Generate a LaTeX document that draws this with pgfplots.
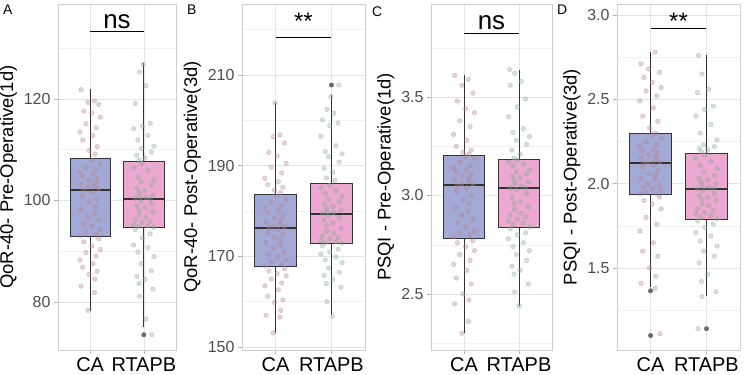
\documentclass[border=0pt]{standalone}
\usepackage{fontspec}
\setmainfont{Liberation Sans}
\usepackage{pgfplots}
\pgfplotsset{compat=1.18}
\usepackage{pgfplotstable}

\definecolor{caBox}{HTML}{A3A9D6}
\definecolor{rtBox}{HTML}{ECA8D0}
\definecolor{caPt}{HTML}{B5838E}
\definecolor{rtPt}{HTML}{86AB95}
\definecolor{boxLine}{HTML}{333333}
\definecolor{outGrey}{HTML}{555555}
\definecolor{gridMaj}{HTML}{E4E4E4}
\definecolor{gridMin}{HTML}{F1F1F1}
\definecolor{frameGrey}{HTML}{CFCFCF}
\definecolor{tickText}{HTML}{4D4D4D}

% ---- jittered points: j = horizontal jitter, y = value ----
\pgfplotstableread{
j y
-0.17 121.8
0.08 119.6
-0.04 119.3
0.16 118.9
-0.12 117.6
0.03 117.2
0.19 116.4
-0.08 115.1
0.11 114.3
-0.19 113.5
0.05 112.8
-0.14 111.9
0.13 110.6
-0.02 109.8
0.09 109.1
0.03 107.8
0.19 107.2
-0.08 106.5
0.11 106.1
-0.19 105.6
0.05 105.2
-0.14 104.8
0.13 104.3
-0.02 103.9
0.09 103.5
-0.17 103.1
0.08 102.8
-0.04 102.5
0.16 102.3
-0.12 102.0
0.05 101.6
-0.14 100.9
0.13 100.2
-0.02 99.5
0.09 98.8
-0.17 98.1
0.08 97.4
-0.04 96.7
0.16 96.1
-0.12 95.4
0.03 94.9
0.19 94.3
-0.08 93.8
0.11 93.4
-0.19 93.0
0.16 92.4
-0.12 91.8
0.03 91.0
0.19 90.3
-0.08 89.7
0.11 89.0
-0.19 88.2
0.05 87.5
-0.14 86.8
0.13 86.0
-0.02 85.4
0.09 84.5
-0.17 83.1
0.08 81.8
-0.04 78.3
}\ptAca
\pgfplotstableread{
j y
-0.01 126.8
-0.08 125.3
0.04 122.6
-0.16 119.1
0.12 115.2
-0.03 114.6
-0.19 114.1
0.08 112.8
-0.11 111.9
0.19 110.7
-0.05 110.2
0.14 109.5
-0.13 108.9
0.02 108.3
-0.09 107.9
-0.03 107.3
-0.19 106.4
0.08 105.9
-0.11 104.5
0.19 104.0
-0.05 103.6
0.14 103.1
-0.13 102.4
0.02 101.9
-0.09 101.5
0.17 101.0
-0.08 100.8
0.04 100.5
-0.16 100.4
0.12 100.3
-0.05 99.9
0.14 99.4
-0.13 98.9
0.02 98.5
-0.09 98.1
0.17 97.8
-0.08 97.2
0.04 96.6
-0.16 96.2
0.12 95.9
-0.03 95.6
-0.19 95.2
0.08 95.0
-0.11 94.8
0.19 94.7
-0.16 94.2
0.12 93.4
-0.03 92.6
-0.19 91.2
0.08 90.7
-0.11 89.8
0.19 88.9
-0.05 87.5
0.14 86.1
-0.13 85.0
0.02 84.4
-0.09 83.6
0.17 82.5
-0.08 81.1
0.04 76.6
0.15 73.5
}\ptArt
\pgfplotstableread{
j y
-0.01 203.8
0.08 196.8
-0.04 196.4
0.16 195.0
-0.12 192.9
0.03 192.1
0.19 190.5
-0.08 189.7
0.11 188.4
-0.19 187.2
0.05 186.5
-0.14 185.8
0.13 185.2
-0.02 184.6
0.09 184.0
0.03 183.3
0.19 182.6
-0.08 181.9
0.11 181.2
-0.19 180.7
0.05 180.1
-0.14 179.6
0.13 179.0
-0.02 178.4
0.09 177.9
-0.17 177.5
0.08 177.0
-0.04 176.7
0.16 176.5
-0.12 176.3
0.05 175.9
-0.14 175.2
0.13 174.8
-0.02 174.3
0.09 173.6
-0.17 173.0
0.08 172.5
-0.04 171.8
0.16 171.0
-0.12 170.4
0.03 169.8
0.19 169.2
-0.08 168.7
0.11 168.3
-0.19 167.9
0.16 167.3
-0.12 166.8
0.03 166.2
0.19 165.7
-0.08 165.0
0.11 164.1
-0.19 163.5
0.05 162.6
-0.14 161.2
0.13 160.4
-0.02 159.8
0.09 158.1
-0.17 157.0
0.08 156.6
-0.04 153.1
}\ptBca
\pgfplotstableread{
j y
0.13 207.8
-0.01 205.2
-0.08 202.4
0.04 201.6
-0.16 200.1
0.12 199.4
-0.03 198.8
-0.19 196.5
0.08 194.4
-0.11 193.1
0.19 192.6
-0.05 192.0
0.14 190.8
-0.13 189.4
0.02 188.5
-0.09 187.3
0.06 186.8
-0.03 185.7
-0.19 185.1
0.08 184.5
-0.11 183.9
0.19 183.2
-0.05 182.6
0.14 182.0
-0.13 181.5
0.02 181.0
-0.09 180.6
0.17 180.2
-0.08 179.9
0.04 179.7
-0.16 179.5
-0.05 179.1
0.14 178.6
-0.13 178.0
0.02 177.4
-0.09 176.8
0.17 176.1
-0.08 175.5
0.04 175.0
-0.16 174.6
0.12 174.2
-0.03 173.8
-0.19 173.5
0.08 173.2
-0.11 173.0
0.19 172.9
-0.16 172.3
0.12 171.6
-0.03 171.0
-0.19 170.5
0.08 169.9
-0.11 169.2
0.19 168.6
-0.05 167.4
0.14 166.5
-0.13 165.8
0.02 164.9
-0.09 164.0
0.17 163.2
-0.08 160.0
0.02 156.8
}\ptBrt
\pgfplotstableread{
j y
-0.17 3.61
0.08 3.59
-0.04 3.56
0.16 3.52
-0.12 3.48
0.03 3.44
0.19 3.42
-0.08 3.38
0.11 3.35
-0.19 3.31
0.05 3.28
-0.14 3.25
0.13 3.23
-0.02 3.22
0.09 3.21
0.03 3.20
0.19 3.19
-0.08 3.17
0.11 3.15
-0.19 3.14
0.05 3.13
-0.14 3.12
0.13 3.11
-0.02 3.10
0.09 3.09
-0.17 3.08
0.08 3.07
-0.04 3.06
0.16 3.06
-0.12 3.05
0.05 3.04
-0.14 3.02
0.13 3.00
-0.02 2.98
0.09 2.96
-0.17 2.94
0.08 2.92
-0.04 2.90
0.16 2.88
-0.12 2.86
0.03 2.84
0.19 2.82
-0.08 2.81
0.11 2.80
-0.19 2.79
0.16 2.77
-0.12 2.76
0.03 2.74
0.19 2.72
-0.08 2.70
0.11 2.67
-0.19 2.65
0.05 2.62
-0.14 2.58
0.13 2.55
-0.02 2.50
0.09 2.47
-0.17 2.45
0.08 2.36
-0.04 2.30
}\ptCca
\pgfplotstableread{
j y
-0.17 3.64
-0.08 3.62
0.04 3.58
-0.16 3.56
0.12 3.49
-0.03 3.45
-0.19 3.40
0.08 3.34
-0.11 3.32
0.19 3.30
-0.05 3.28
0.14 3.26
-0.13 3.23
0.02 3.21
-0.09 3.19
-0.03 3.18
-0.19 3.17
0.08 3.16
-0.11 3.15
0.19 3.13
-0.05 3.12
0.14 3.11
-0.13 3.10
0.02 3.09
-0.09 3.08
0.17 3.07
-0.08 3.06
0.04 3.05
-0.16 3.04
0.12 3.04
-0.05 3.03
0.14 3.01
-0.13 2.99
0.02 2.97
-0.09 2.96
0.17 2.94
-0.08 2.93
0.04 2.91
-0.16 2.90
0.12 2.89
-0.03 2.88
-0.19 2.87
0.08 2.86
-0.11 2.85
0.19 2.84
-0.16 2.83
0.12 2.81
-0.03 2.80
-0.19 2.78
0.08 2.76
-0.11 2.74
0.19 2.72
-0.05 2.70
0.14 2.67
-0.13 2.64
0.02 2.62
-0.09 2.60
0.17 2.55
-0.08 2.51
0.00 2.44
}\ptCrt
\pgfplotstableread{
j y
0.08 2.78
-0.17 2.71
-0.04 2.68
0.16 2.66
-0.12 2.63
0.03 2.60
0.19 2.57
-0.08 2.55
0.11 2.52
-0.19 2.49
0.05 2.45
-0.14 2.40
0.13 2.37
-0.02 2.33
0.09 2.30
0.03 2.29
0.19 2.27
-0.08 2.25
0.11 2.23
-0.19 2.22
0.05 2.20
-0.14 2.19
0.13 2.18
-0.02 2.17
0.09 2.16
-0.17 2.15
0.08 2.14
-0.04 2.13
0.16 2.13
-0.12 2.12
0.05 2.11
-0.14 2.10
0.13 2.08
-0.02 2.06
0.09 2.05
-0.17 2.03
0.08 2.02
-0.04 2.00
0.16 1.99
-0.12 1.98
0.03 1.97
0.19 1.96
-0.08 1.95
0.11 1.94
-0.19 1.94
0.16 1.92
-0.12 1.90
0.03 1.88
0.19 1.85
-0.08 1.80
0.11 1.76
-0.19 1.72
0.05 1.65
-0.14 1.60
0.13 1.57
-0.02 1.50
0.09 1.45
-0.17 1.41
0.08 1.38
0.17 1.11
}\ptDca
\pgfplotstableread{
j y
-0.14 2.76
-0.08 2.65
0.04 2.56
-0.16 2.54
0.12 2.46
-0.03 2.44
-0.19 2.40
0.08 2.35
-0.11 2.30
0.19 2.26
-0.05 2.23
0.14 2.22
-0.13 2.21
0.02 2.20
-0.09 2.19
-0.03 2.17
-0.19 2.15
0.08 2.13
-0.11 2.11
0.19 2.09
-0.05 2.07
0.14 2.05
-0.13 2.03
0.02 2.02
-0.09 2.01
0.17 2.00
-0.08 1.99
0.04 1.98
-0.16 1.97
0.12 1.97
-0.05 1.96
0.14 1.94
-0.13 1.93
0.02 1.92
-0.09 1.91
0.17 1.90
-0.08 1.88
0.04 1.87
-0.16 1.85
0.12 1.84
-0.03 1.83
-0.19 1.82
0.08 1.81
-0.11 1.80
0.19 1.79
-0.16 1.78
0.12 1.76
-0.03 1.74
-0.19 1.71
0.08 1.69
-0.11 1.66
0.19 1.63
-0.05 1.60
0.14 1.57
-0.13 1.53
0.02 1.46
-0.09 1.42
0.17 1.36
-0.08 1.33
-0.15 1.14
}\ptDrt

\pgfplotsset{
  panel/.style={
    scale only axis, anchor=south west, height=346bp,
    xmin=0.4, xmax=2.6, xtick={1,2}, xticklabels={CA,RTAPB},
    xtick pos=bottom, ytick pos=left,
    axis line style={draw=frameGrey, line width=0.6pt},
    xmajorgrids, ymajorgrids, yminorgrids,
    major grid style={draw=gridMaj, line width=0.5pt},
    minor grid style={draw=gridMin, line width=0.4pt},
    tick align=outside, major tick length=4bp, minor tick length=0pt,
    tick style={draw=frameGrey!85!black, line width=0.5pt},
    xticklabel style={font=\fontsize{20}{24}\selectfont, text=black},
    yticklabel style={font=\fontsize{16}{19}\selectfont, text=tickText},
    ylabel style={font=\fontsize{18.5}{22}\selectfont},
    /pgf/number format/assume math mode=true,
  },
  dec1/.style={yticklabel style={/pgf/number format/.cd, fixed, fixed zerofill, precision=1}},
  ptsCA/.style={only marks, mark=*, mark size=2.3bp,
    mark options={fill=caPt, fill opacity=0.36, draw=caPt, draw opacity=0.48, line width=0.4pt}},
  ptsRT/.style={only marks, mark=*, mark size=2.3bp,
    mark options={fill=rtPt, fill opacity=0.36, draw=rtPt, draw opacity=0.48, line width=0.4pt}},
  outl/.style={only marks, mark=*, mark size=2.2bp,
    mark options={fill=outGrey, draw=outGrey, opacity=0.85}},
}

% box: #1 left, #2 centre, #3 right, #4 lower whisker, #5 Q1, #6 median, #7 Q3, #8 upper whisker, #9 fill
\newcommand{\bxp}[9]{%
  \addplot[draw=boxLine, line width=0.8pt] coordinates {(#2,#4) (#2,#5)};
  \addplot[draw=boxLine, line width=0.8pt] coordinates {(#2,#7) (#2,#8)};
  \addplot[fill=#9, draw=boxLine, line width=0.8pt] coordinates {(#1,#5) (#3,#5) (#3,#7) (#1,#7)} -- cycle;
  \addplot[draw=boxLine, line width=2pt] coordinates {(#1,#6) (#3,#6)};
}

\begin{document}
\begin{tikzpicture}
\path[use as bounding box] (0,0) rectangle (744bp,375bp);

% ---------------- A ----------------
\begin{axis}[panel, at={(58bp,25bp)}, width=118bp,
  ymin=70.5, ymax=138.7, ytick={80,100,120}, minor ytick={70,90,110,130},
  ylabel={QoR-40- Pre-Operative(1d)}]
\bxp{0.625}{1}{1.375}{78.2}{92.9}{102.1}{108.2}{122}{caBox}
\bxp{1.625}{2}{2.375}{75.1}{94.6}{100.3}{107.6}{127}{rtBox}
\addplot[outl] coordinates {(2,73.5)};
\addplot[ptsCA] table[x expr=1+\thisrow{j}, y=y] {\ptAca};
\addplot[ptsRT] table[x expr=2+\thisrow{j}, y=y] {\ptArt};
\draw[line width=1.1pt] (axis cs:1,133.2) -- (axis cs:2,133.2);
\node[anchor=base, inner sep=0pt, font=\fontsize{26}{30}\selectfont] at (axis cs:1.5,133.9) {ns};
\end{axis}

% ---------------- B ----------------
\begin{axis}[panel, at={(242bp,25bp)}, width=123bp,
  ymin=149.34, ymax=225.66, ytick={150,170,190,210}, minor ytick={160,180,200,220},
  ylabel={QoR-40- Post-Operative(3d)}]
\bxp{0.625}{1}{1.375}{153}{167.8}{176.2}{183.6}{203.8}{caBox}
\bxp{1.625}{2}{2.375}{157}{172.8}{179.4}{186.0}{205.5}{rtBox}
\addplot[outl] coordinates {(2,207.8)};
\addplot[ptsCA] table[x expr=1+\thisrow{j}, y=y] {\ptBca};
\addplot[ptsRT] table[x expr=2+\thisrow{j}, y=y] {\ptBrt};
\draw[line width=1.1pt] (axis cs:1,218.2) -- (axis cs:2,218.2);
\node[anchor=base, inner sep=0pt, font=\fontsize{24}{28}\selectfont] at (axis cs:1.5,220.1) {**};
\end{axis}

% ---------------- C ----------------
\begin{axis}[panel, dec1, at={(431bp,25bp)}, width=121bp,
  ymin=2.215, ymax=3.973, ytick={2.5,3.0,3.5}, minor ytick={2.25,2.75,3.25,3.75},
  ylabel={PSQI - Pre-Operative(1d)}]
\bxp{0.625}{1}{1.375}{2.30}{2.781}{3.051}{3.203}{3.61}{caBox}
\bxp{1.625}{2}{2.375}{2.44}{2.837}{3.036}{3.183}{3.64}{rtBox}
\addplot[ptsCA] table[x expr=1+\thisrow{j}, y=y] {\ptCca};
\addplot[ptsRT] table[x expr=2+\thisrow{j}, y=y] {\ptCrt};
\draw[line width=1.1pt] (axis cs:1,3.824) -- (axis cs:2,3.824);
\node[anchor=base, inner sep=0pt, font=\fontsize{26}{30}\selectfont] at (axis cs:1.5,3.844) {ns};
\end{axis}

% ---------------- D ----------------
\begin{axis}[panel, dec1, at={(617bp,25bp)}, width=123bp,
  ymin=1.014, ymax=3.065, ytick={1.5,2.0,2.5,3.0}, minor ytick={1.25,1.75,2.25,2.75},
  ylabel={PSQI - Post-Operative(3d)}]
\bxp{0.625}{1}{1.375}{1.39}{1.935}{2.12}{2.297}{2.78}{caBox}
\bxp{1.625}{2}{2.375}{1.334}{1.79}{1.966}{2.178}{2.76}{rtBox}
\addplot[outl] coordinates {(1,1.365) (1,1.10) (2,1.14)};
\addplot[ptsCA] table[x expr=1+\thisrow{j}, y=y] {\ptDca};
\addplot[ptsRT] table[x expr=2+\thisrow{j}, y=y] {\ptDrt};
\draw[line width=1.1pt] (axis cs:1,2.921) -- (axis cs:2,2.921);
\node[anchor=base, inner sep=0pt, font=\fontsize{24}{28}\selectfont] at (axis cs:1.5,2.911) {**};
\end{axis}

% panel letters
\node[anchor=north west, inner sep=0pt, font=\fontsize{14}{16}\selectfont] at (3bp,370bp) {A};
\node[anchor=north west, inner sep=0pt, font=\fontsize{14}{16}\selectfont] at (187bp,370bp) {B};
\node[anchor=north west, inner sep=0pt, font=\fontsize{14}{16}\selectfont] at (372bp,368bp) {C};
\node[anchor=north west, inner sep=0pt, font=\fontsize{14}{16}\selectfont] at (557bp,370bp) {D};
\end{tikzpicture}
\end{document}
